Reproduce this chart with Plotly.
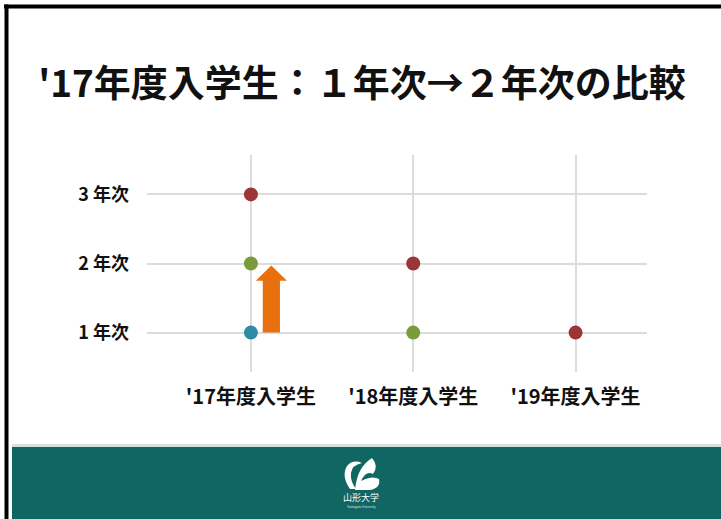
import plotly.graph_objects as go

# Cohorts on the x axis and school years on the y axis
cohorts = ["'17年度入学生", "'18年度入学生", "'19年度入学生"]
grade_labels = ["1 年次", "2 年次", "3 年次"]
grade_values = [1, 2, 3]

# Grade reached by each cohort, one series per academic year
years = ["2017年度", "2018年度", "2019年度"]
grade_2017 = [1, None, None]
grade_2018 = [2, 1, None]
grade_2019 = [3, 2, 1]
series_colors = ["#2f8aa4", "#7b9b3b", "#9c3535"]

title_text = "'17年度入学生：１年次→２年次の比較"
logo_text = "山形大学"
logo_sub = "Yamagata University"

W, H = 721, 519
FONT = "Noto Sans CJK JP"


def fx(px):
    return px / W


def fy(py):
    return 1 - py / H


fig = go.Figure()
x_pos = list(range(len(cohorts)))
for name, vals, col in zip(years, [grade_2017, grade_2018, grade_2019], series_colors):
    fig.add_trace(go.Scatter(
        x=x_pos, y=vals, name=name, mode="markers",
        marker=dict(size=14, color=col, line=dict(width=0)),
        showlegend=False, cliponaxis=False,
    ))

# Orange arrow beside the '17 cohort, from 1年次 up to 2年次
cx = x_pos[0] + 0.126
sw, hw = 0.053, 0.096
y0 = grade_2017[0]
tip = grade_2018[0] - 0.03
hb = grade_2018[0] - 0.25
arrow = (f"M {cx - sw},{y0} L {cx + sw},{y0} L {cx + sw},{hb} L {cx + hw},{hb} "
         f"L {cx},{tip} L {cx - hw},{hb} L {cx - sw},{hb} Z")

shapes = [
    dict(type="path", path=arrow, xref="x", yref="y",
         fillcolor="#e8700e", line=dict(width=0), layer="above"),
    # frame lines along the top and left
    dict(type="rect", xref="paper", yref="paper", x0=fx(4), x1=fx(W + 2), y0=fy(8.5), y1=fy(4.5),
         fillcolor="#000000", line=dict(width=0), layer="above"),
    dict(type="rect", xref="paper", yref="paper", x0=fx(4.5), x1=fx(8.5), y0=fy(H + 2), y1=fy(4.5),
         fillcolor="#000000", line=dict(width=0), layer="above"),
    # footer band
    dict(type="rect", xref="paper", yref="paper", x0=fx(12), x1=fx(W + 2), y0=fy(444), y1=fy(447),
         fillcolor="#d3e3e2", line=dict(width=0), layer="below"),
    dict(type="rect", xref="paper", yref="paper", x0=fx(12), x1=fx(W + 2), y0=fy(H + 2), y1=fy(447),
         fillcolor="#0f6663", line=dict(width=0), layer="below"),
]


def pth(points):
    out = []
    for cmd, *xy in points:
        coords = []
        for i in range(0, len(xy), 2):
            coords.append(f"{fx(xy[i])},{fy(xy[i + 1])}")
        out.append(cmd + " " + " ".join(coords))
    return " ".join(out) + " Z"


# stylised butterfly emblem in the footer
left_wing = pth([
    ("M", 350, 489),
    ("Q", 341, 476, 347, 466),
    ("Q", 353, 459, 362, 463),
    ("Q", 352, 465, 351, 473),
    ("Q", 350, 481, 356, 489),
])
right_wing = pth([
    ("M", 355, 490),
    ("Q", 357, 467, 372, 458),
    ("Q", 379, 466, 373, 474),
    ("Q", 366, 470, 361, 481),
    ("Q", 372, 475, 379, 479),
    ("Q", 381, 488, 370, 490),
])
for p in (left_wing, right_wing):
    shapes.append(dict(type="path", path=p, xref="paper", yref="paper",
                       fillcolor="#ffffff", line=dict(width=0), layer="above"))

annotations = [
    dict(text=logo_text, x=fx(361), y=fy(497), xref="paper", yref="paper",
         showarrow=False, font=dict(family=FONT, size=9, color="#ffffff"),
         xanchor="center", yanchor="middle"),
    dict(text=logo_sub, x=fx(361), y=fy(507), xref="paper", yref="paper",
         showarrow=False, font=dict(family="Noto Sans", size=3, color="#dfeceb"),
         xanchor="center", yanchor="middle"),
]

fig.update_layout(
    width=W, height=H,
    margin=dict(l=0, r=0, t=0, b=0),
    paper_bgcolor="#ffffff", plot_bgcolor="#ffffff",
    title=dict(text=title_text, x=fx(362), y=fy(84), xanchor="center", yanchor="middle",
               xref="paper", yref="paper",
               font=dict(family=FONT, size=37, color="#111111", weight="bold")),
    shapes=shapes,
    annotations=annotations,
    xaxis=dict(
        domain=[fx(147), fx(647)], range=[-0.64, 2.44],
        tickmode="array", tickvals=x_pos, ticktext=cohorts,
        showgrid=True, gridcolor="#dcdcdc", gridwidth=1.5,
        zeroline=False, showline=False, ticks="", automargin=False,
        ticklabelstandoff=11,
        tickfont=dict(family=FONT, size=20, color="#111111", weight="bold"),
        fixedrange=True,
    ),
    yaxis=dict(
        domain=[fy(372), fy(155)], range=[0.43, 3.57],
        tickmode="array", tickvals=grade_values, ticktext=grade_labels,
        showgrid=True, gridcolor="#dcdcdc", gridwidth=1.5,
        zeroline=False, showline=False, ticks="", automargin=False,
        ticklabelstandoff=17,
        tickfont=dict(family=FONT, size=18, color="#111111", weight="bold"),
        fixedrange=True,
    ),
)

fig.write_html("out.html")
